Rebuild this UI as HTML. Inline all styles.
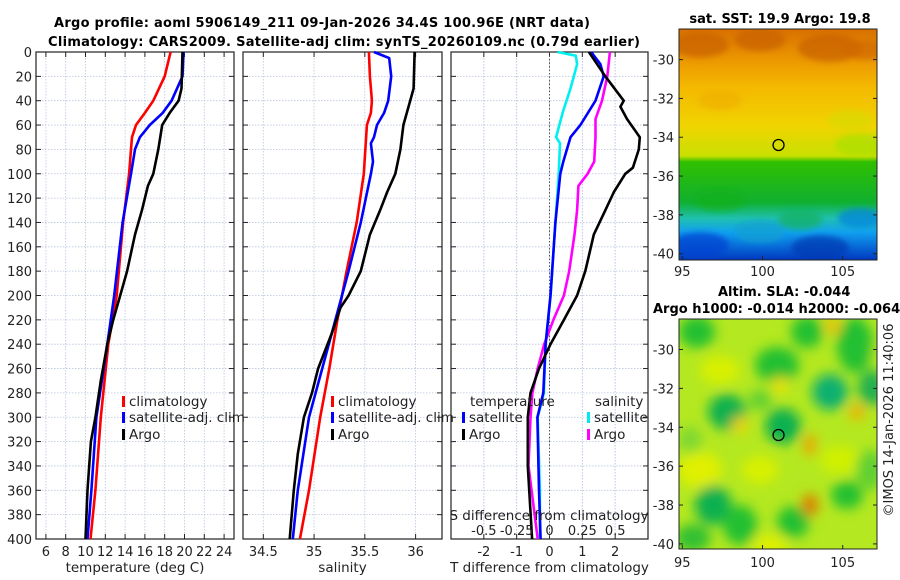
<!DOCTYPE html>
<html><head><meta charset="utf-8">
<style>
html,body{margin:0;padding:0;background:#fff;}
svg{display:block;font-family:"DejaVu Sans","Liberation Sans",sans-serif;}
</style></head>
<body>
<svg id="fig" width="900" height="580" viewBox="0 0 900 580" xmlns="http://www.w3.org/2000/svg">
<defs>
<linearGradient id="sstg" x1="0" y1="0" x2="0" y2="1">
<stop offset="0" stop-color="#d87000"/>
<stop offset="0.12" stop-color="#ea9400"/>
<stop offset="0.25" stop-color="#f4b800"/>
<stop offset="0.42" stop-color="#f0d400"/>
<stop offset="0.55" stop-color="#c8e000"/>
<stop offset="0.575" stop-color="#30c000"/>
<stop offset="0.75" stop-color="#10b030"/>
<stop offset="0.82" stop-color="#20c0b0"/>
<stop offset="0.88" stop-color="#10a0f0"/>
<stop offset="1" stop-color="#0038c0"/>
</linearGradient>
<filter id="blur" x="-50%" y="-50%" width="200%" height="200%"><feGaussianBlur stdDeviation="6"/></filter>
<filter id="blur2" x="-50%" y="-50%" width="200%" height="200%"><feGaussianBlur stdDeviation="3"/></filter>
<clipPath id="c1"><rect x="679" y="29" width="198" height="231"/></clipPath>
<clipPath id="c2"><rect x="679" y="319" width="198" height="230"/></clipPath>
</defs>
<g id="root"></g>
</svg>
<script>
// ---- data ----
var depthTicks = [0,20,40,60,80,100,120,140,160,180,200,220,240,260,280,300,320,340,360,380,400];
var tempTicks = [6,8,10,12,14,16,18,20,22,24];
var salTicks = [34.5,35,35.5,36];
var tdiffTicks = [-2,-1,0,1,2];
var sdiffTicks = [-0.5,-0.25,0,0.25,0.5];
var sdiffLabels = ["-0.5","-0.25","0","0.25","0.5"];

var climTDepth = [0,20,40,50,60,70,80,100,140,200,240,300,360,400];
var climT = [18.6,18.0,16.85,16.0,15.1,14.7,14.6,14.4,13.8,13.15,12.3,11.55,11.0,10.5];
var satTDepth = [0,20,40,50,60,70,80,100,140,200,240,300,360,400];
var satT = [19.9,19.8,18.7,17.8,16.5,15.5,15.0,14.6,13.75,12.9,12.2,11.1,10.6,10.2];
var argoTDepth = [0,30,40,50,60,80,100,110,130,150,180,200,220,240,270,300,320,360,400];
var argoT = [19.8,19.7,19.4,18.5,17.75,17.35,16.85,16.3,15.7,15.0,14.2,13.5,12.8,12.2,11.55,11.0,10.55,10.2,10.0];

var climSDepth = [0,20,40,50,60,100,140,180,220,260,300,360,400];
var climS = [35.54,35.55,35.57,35.56,35.52,35.49,35.42,35.32,35.23,35.15,35.06,34.95,34.86];
var satSDepth = [0,5,20,40,50,60,70,75,90,100,140,180,220,260,300,360,400];
var satS = [35.59,35.74,35.76,35.73,35.69,35.62,35.59,35.56,35.58,35.56,35.46,35.34,35.21,35.08,34.95,34.84,34.79];
var argoSDepth = [0,30,45,60,80,100,115,130,150,180,200,210,230,260,280,300,330,360,400];
var argoS = [35.99,35.98,35.93,35.88,35.85,35.80,35.72,35.65,35.55,35.46,35.34,35.26,35.18,35.04,34.98,34.90,34.84,34.80,34.76];

var satTdDepth = [0,10,20,40,60,70,90,100,140,200,240,280,300,360,400];
var satTd = [1.27,1.55,1.65,1.4,0.94,0.64,0.42,0.33,0.18,0.03,-0.12,-0.19,-0.37,-0.32,-0.27];
var argoTdDepth = [0,10,20,40,45,55,70,80,95,100,115,130,150,180,200,220,240,260,280,300,340,400];
var argoTd = [1.2,1.45,1.7,2.26,2.16,2.36,2.75,2.72,2.54,2.31,1.96,1.7,1.35,1.09,0.84,0.44,0.03,-0.32,-0.58,-0.66,-0.66,-0.53];
var satSdDepth = [0,3,10,30,50,70,75,100,140,200,240,280,300,360,400];
var satSd = [0.06,0.2,0.21,0.16,0.1,0.05,0.08,0.07,0.045,0.008,-0.03,-0.043,-0.09,-0.073,-0.073];
var argoSdDepth = [0,20,40,55,70,90,100,110,130,150,180,200,220,240,260,280,300,340,400];
var argoSd = [0.46,0.44,0.4,0.35,0.35,0.34,0.29,0.22,0.21,0.19,0.15,0.11,0.03,-0.04,-0.09,-0.13,-0.145,-0.16,-0.09];

var lonTicks = [95,100,105];
var latTicks = [-30,-32,-34,-36,-38,-40];
var argoLon = 101.0, argoLat = -34.4;

// ---- helpers ----
var NS = "http://www.w3.org/2000/svg";
var root = document.getElementById('root');
function el(tag, attrs, parent, txt){
  var e = document.createElementNS(NS, tag);
  for (var k in attrs) e.setAttribute(k, attrs[k]);
  if (txt !== undefined) e.textContent = txt;
  (parent || root).appendChild(e);
  return e;
}
var TOP = 52, BOT = 539;
function yD(d){ return TOP + (BOT - TOP) * d / 400; }
function lin(d0,d1,r0,r1){ return function(v){ return r0 + (v - d0) * (r1 - r0) / (d1 - d0); }; }

var panels = [
  {name:'temperature-panel', x0:36, x1:234, dom:[5,25], ticks:tempTicks, title:'temperature (deg C)'},
  {name:'salinity-panel', x0:243, x1:442, dom:[34.3,36.26], ticks:salTicks, title:'salinity'},
  {name:'difference-panel', x0:451, x1:648, dom:[-3,3], ticks:tdiffTicks, title:'T difference from climatology'}
];
panels.forEach(function(p, i){
  p.sx = lin(p.dom[0], p.dom[1], p.x0, p.x1);
  var g = el('g', {});
  
  
  depthTicks.forEach(function(d){
    var l = el('line', {x1:p.x0, x2:p.x1, y1:yD(d), y2:yD(d), stroke:'#b8c4e0', 'stroke-width':0.8, 'stroke-dasharray':'1.5,1.5'}, g);
    
    
    el('line', {x1:p.x0, x2:p.x0+5, y1:yD(d), y2:yD(d), stroke:'#222'}, g);
    el('line', {x1:p.x1-5, x2:p.x1, y1:yD(d), y2:yD(d), stroke:'#222'}, g);
  });
  var gx = p.ticks.slice();
  if (i === 2) sdiffTicks.forEach(function(s){ gx.push(s*4); });
  gx.forEach(function(v){
    var l = el('line', {x1:p.sx(v), x2:p.sx(v), y1:TOP, y2:BOT, stroke:'#b8c4e0', 'stroke-width':0.8, 'stroke-dasharray':'1.5,1.5'}, g);
    
    
  });
  p.ticks.forEach(function(v){
    el('line', {x1:p.sx(v), x2:p.sx(v), y1:BOT, y2:BOT-5, stroke:'#222'}, g);
    el('line', {x1:p.sx(v), x2:p.sx(v), y1:TOP, y2:TOP+5, stroke:'#222'}, g);
    var t = el('text', {x:p.sx(v), y:556, 'font-size':13, 'text-anchor':'middle', fill:'#222'}, g, String(v));
    
    
  });
  var t = el('text', {x:(p.x0+p.x1)/2, y:572, 'font-size':13.5, 'text-anchor':'middle', fill:'#222'}, g, p.title);
  
  
  var f = el('rect', {x:p.x0, y:TOP, width:p.x1-p.x0, height:BOT-TOP, fill:'none', stroke:'#222', 'stroke-width':1.2}, g);
  
  
});
depthTicks.forEach(function(d){
  var t = el('text', {x:32, y:yD(d)+5, 'font-size':13, 'text-anchor':'end', fill:'#222'}, root, String(d));
  
  
});
var zl = el('line', {x1:panels[2].sx(0), x2:panels[2].sx(0), y1:TOP, y2:BOT, stroke:'#555', 'stroke-dasharray':'1.5,2'});



function line(p, xs, ds, color, name, scale){
  scale = scale || 1;
  var pts = xs.map(function(v, k){ return p.sx(v*scale).toFixed(1) + ',' + yD(ds[k]).toFixed(1); }).join(' ');
  var pl = el('polyline', {points:pts, fill:'none', stroke:color, 'stroke-width':2.6, 'stroke-linejoin':'round'});
  
  
}
line(panels[0], climT, climTDepth, '#ff0000', 'climatology-temperature-line');
line(panels[0], satT, satTDepth, '#0000ff', 'satellite-temperature-line');
line(panels[0], argoT, argoTDepth, '#000000', 'argo-temperature-line');
line(panels[1], climS, climSDepth, '#ff0000', 'climatology-salinity-line');
line(panels[1], satS, satSDepth, '#0000ff', 'satellite-salinity-line');
line(panels[1], argoS, argoSDepth, '#000000', 'argo-salinity-line');
line(panels[2], satSd, satSdDepth, '#00f0f0', 'satellite-salinity-diff-line', 4);
line(panels[2], argoSd, argoSdDepth, '#ff00ff', 'argo-salinity-diff-line', 4);
line(panels[2], satTd, satTdDepth, '#0000ff', 'satellite-temperature-diff-line');
line(panels[2], argoTd, argoTdDepth, '#000000', 'argo-temperature-diff-line');

var sl = el('text', {x:549, y:520, 'font-size':13.5, 'text-anchor':'middle', fill:'#222'}, root, 'S difference from climatology');


sdiffTicks.forEach(function(s, k){
  var t = el('text', {x:panels[2].sx(s*4), y:535, 'font-size':13, 'text-anchor':'middle', fill:'#222'}, root, sdiffLabels[k]);
  
  
});

function legend(x, y, color, label, name){
  var g = el('g', {});
  
  
  el('rect', {x:x, y:y-10, width:3, height:11, fill:color}, g);
  el('text', {x:x+7, y:y, 'font-size':13.5, fill:'#222'}, g, label);
}
legend(122, 406, '#ff0000', 'climatology', 'legend-climatology-temp');
legend(122, 422, '#0000ff', 'satellite-adj. clim', 'legend-satellite-temp');
legend(122, 439, '#000000', 'Argo', 'legend-argo-temp');
legend(331, 406, '#ff0000', 'climatology', 'legend-climatology-sal');
legend(331, 422, '#0000ff', 'satellite-adj. clim', 'legend-satellite-sal');
legend(331, 439, '#000000', 'Argo', 'legend-argo-sal');
var lt = el('text', {x:470, y:406, 'font-size':13.5, fill:'#222'}, root, 'temperature');
 
var ls = el('text', {x:595, y:406, 'font-size':13.5, fill:'#222'}, root, 'salinity');
 
legend(462, 422, '#0000ff', 'satellite', 'legend-satellite-tdiff');
legend(462, 439, '#000000', 'Argo', 'legend-argo-tdiff');
legend(587, 422, '#00e8f0', 'satellite', 'legend-satellite-sdiff');
legend(587, 439, '#ff00ff', 'Argo', 'legend-argo-sdiff');

function txt(x, y, s, name, opts){
  var a = {x:x, y:y, 'font-size':13, 'font-weight':'bold', fill:'#000', 'text-anchor':'middle'};
  for (var k in (opts||{})) a[k] = opts[k];
  var t = el('text', a, root, s);
  
  
  return t;
}
txt(322, 27, 'Argo profile: aoml 5906149_211 09-Jan-2026 34.4S 100.96E (NRT data)', 'title-line-1', {'textLength':536});
txt(344, 46, 'Climatology: CARS2009. Satellite-adj clim: synTS_20260109.nc (0.79d earlier)', 'title-line-2', {'textLength':592});
txt(780, 23, 'sat. SST: 19.9 Argo: 19.8', 'sst-map-title');
txt(718, 296, 'Altim. SLA: -0.044', 'sla-map-title', {'text-anchor':'start'});
txt(653, 313, 'Argo h1000: -0.014 h2000: -0.064', 'sla-map-subtitle', {'text-anchor':'start'});
var cr = el('text', {x:0, y:0, 'font-size':13, fill:'#222', 'text-anchor':'middle', transform:'translate(893,420) rotate(-90)'}, root, '\u00A9IMOS 14-Jan-2026 11:40:06');



var lonX = lin(95, 105, 682.3, 842.7);
var maps = [
  {name:'sst-map', top:29, bot:260, latY:lin(-30,-40,59.6,253.7), clip:'c1', lonLabelY:276},
  {name:'sla-map', top:319, bot:549, latY:lin(-30,-40,349.5,543.9), clip:'c2', lonLabelY:567}
];
maps.forEach(function(m, i){
  var g = el('g', {});
  
  
  var img = el('g', {'clip-path':'url(#'+m.clip+')'}, g);
  if (i === 0){
    el('rect', {x:679, y:m.top, width:198, height:m.bot-m.top, fill:'url(#sstg)'}, img);
    var bl = el('g', {filter:'url(#blur2)'}, img);
    [[700,45,18,'#c86000'],[760,40,16,'#c86000'],[830,48,20,'#c86000'],[865,50,14,'#d06800'],[720,100,14,'#f0b000'],[850,120,14,'#d8d800'],[860,145,16,'#a8e000'],[720,200,16,'#10b020'],[800,220,14,'#10b060'],[760,232,16,'#10a0d0'],[860,218,14,'#0080e0'],[700,245,18,'#0040d0'],[820,248,18,'#0038b0']].forEach(function(b){
      el('ellipse', {cx:b[0], cy:b[1], rx:b[2]*1.6, ry:b[2]*0.7, fill:b[3], opacity:0.7}, bl);
    });
  } else {
    el('rect', {x:679, y:m.top, width:198, height:m.bot-m.top, fill:'#b4e820'}, img);
    var bg = el('g', {filter:'url(#blur)'}, img);
    [[700,470,22,18,'#e0f000'],[760,470,18,14,'#d8f000'],[840,460,20,14,'#d0f000'],[720,370,20,14,'#d8f000'],[860,350,14,14,'#e8e800'],[770,545,18,10,'#e0f000']].forEach(function(b){
      el('ellipse', {cx:b[0], cy:b[1], rx:b[2], ry:b[3], fill:b[4]}, bg);
    });
    [[697,332,18,16,'#20c030'],[777,365,22,18,'#20c030'],[807,332,16,16,'#20c030'],[855,345,18,28,'#20c030'],[830,392,18,18,'#10b070'],[872,388,14,18,'#20b050'],[727,412,19,18,'#10b050'],[783,426,18,18,'#10b050'],[713,505,18,20,'#10b050'],[740,525,17,20,'#20c030'],[793,522,16,16,'#20c030'],[847,495,16,14,'#20c030'],[693,538,18,14,'#30c030'],[760,400,12,10,'#60d030'],[870,470,14,20,'#60d030'],[690,440,12,14,'#80d830']].forEach(function(b){
      el('ellipse', {cx:b[0], cy:b[1], rx:b[2], ry:b[3], fill:b[4]}, bg);
    });
    [[810,505,8,11,'#e07800'],[810,445,6,11,'#f0a000'],[833,326,8,8,'#f0c000'],[857,412,8,8,'#f0b000'],[740,425,8,8,'#f0d000'],[780,385,8,8,'#f0e000']].forEach(function(b){
      el('ellipse', {cx:b[0], cy:b[1], rx:b[2], ry:b[3], fill:b[4]}, bg);
    });
  }
  el('rect', {x:679, y:m.top, width:198, height:m.bot-m.top, fill:'none', stroke:'#222', 'stroke-width':1}, g);
  latTicks.forEach(function(la){
    var y = m.latY(la);
    el('line', {x1:679, x2:683, y1:y, y2:y, stroke:'#222'}, g);
    el('line', {x1:873, x2:877, y1:y, y2:y, stroke:'#222'}, g);
    var t = el('text', {x:674, y:y+5, 'font-size':13, 'text-anchor':'end', fill:'#222'}, g, String(la));
    
    
  });
  lonTicks.forEach(function(lo){
    var x = lonX(lo);
    el('line', {x1:x, x2:x, y1:m.bot, y2:m.bot-4, stroke:'#222'}, g);
    var t = el('text', {x:x, y:m.lonLabelY, 'font-size':13, 'text-anchor':'middle', fill:'#222'}, g, String(lo));
    
    
  });
  var c = el('circle', {cx:lonX(argoLon), cy:m.latY(argoLat), r:5.5, fill:'none', stroke:'#000', 'stroke-width':1.3}, g);
  
  
});
</script>
</body></html>
